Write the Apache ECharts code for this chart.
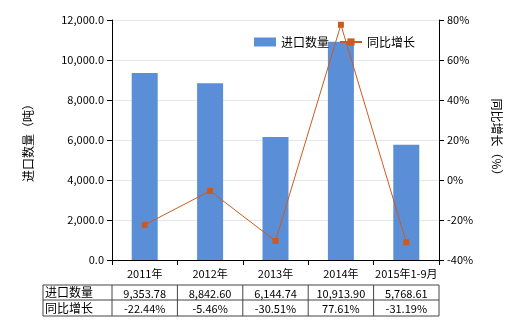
<!DOCTYPE html>
<html><head><meta charset="utf-8">
<script src="https://cdn.jsdelivr.net/npm/echarts@6/dist/echarts.min.js"></script>
<style>html,body{margin:0;padding:0;background:#fff}#c{width:520px;height:330px}</style>
</head><body><div id="c"></div>
<script>
var categories = ['2011年','2012年','2013年','2014年','2015年1-9月'];
var importQty = [9353.78, 8842.60, 6144.74, 10913.90, 5768.61];
var yoyGrowth = [-22.44, -5.46, -30.51, 77.61, -31.19];
var qtyLabels = ['9,353.78','8,842.60','6,144.74','10,913.90','5,768.61'];
var yoyLabels = ['-22.44%','-5.46%','-30.51%','77.61%','-31.19%'];
var rowNames = ['进口数量','同比增长'];

var chart = echarts.init(document.getElementById('c'));
var font = 'Microsoft YaHei, "Noto Sans CJK SC", sans-serif';
var L = 112, R = 439, T = 20, B = 260;
var tTop = 285, tMid = 300, tBot = 316, tLeft = 43;
var colW = (R - L) / categories.length;

var g = [];
var lineStyle = {stroke: '#444', lineWidth: 1};
g.push({type:'line', shape:{x1:tLeft,y1:tTop,x2:R,y2:tTop}, style:lineStyle});
g.push({type:'line', shape:{x1:tLeft,y1:tMid,x2:R,y2:tMid}, style:lineStyle});
g.push({type:'line', shape:{x1:tLeft,y1:tBot,x2:R,y2:tBot}, style:lineStyle});
g.push({type:'line', shape:{x1:tLeft,y1:tTop,x2:tLeft,y2:tBot}, style:lineStyle});
for (var i = 0; i <= categories.length; i++) {
  var x = L + i * colW;
  g.push({type:'line', shape:{x1:x,y1:tTop,x2:x,y2:tBot}, style:lineStyle});
}
var rows = [qtyLabels, yoyLabels];
for (var r = 0; r < 2; r++) {
  var cy = (r === 0 ? (tTop + tMid) / 2 : (tMid + tBot) / 2);
  g.push({type:'text', x: tLeft + 2, y: cy, style:{text: rowNames[r], fill:'#000', font:'12px ' + font, verticalAlign:'middle', align:'left'}});
  for (var c = 0; c < categories.length; c++) {
    g.push({type:'text', x: L + (c + 0.5) * colW, y: cy + 1, style:{text: rows[r][c], fill:'#000', font:'11px ' + font, verticalAlign:'middle', align:'center'}});
  }
}

chart.setOption({
  animation: false,
  textStyle: {fontFamily: font},
  grid: {left: L, right: 520 - R, top: T, bottom: 330 - B, containLabel: false},
  legend: {
    top: 31, left: 249, itemWidth: 22, itemHeight: 9, itemGap: 10,
    textStyle: {fontSize: 12, color: '#000'},
    data: [{name:'进口数量', icon:'rect'}, {name:'同比增长'}]
  },
  xAxis: {
    type: 'category', data: categories,
    axisLine: {lineStyle: {color: '#000'}},
    axisTick: {show: true, alignWithLabel: false, lineStyle: {color: '#000'}},
    axisLabel: {color: '#000', fontSize: 11, margin: 8, interval: 0}
  },
  yAxis: [{
    type: 'value', min: 0, max: 12000, interval: 2000,
    name: '进口数量（吨）', nameLocation: 'middle', nameGap: 78, nameRotate: 90,
    nameTextStyle: {fontSize: 12, color: '#000'},
    axisLine: {show: true, lineStyle: {color: '#000'}},
    axisTick: {show: true, lineStyle: {color: '#000'}},
    axisLabel: {color: '#000', fontSize: 11, formatter: function(v){ return v.toLocaleString('en-US',{minimumFractionDigits:1, maximumFractionDigits:1}); }},
    splitLine: {lineStyle: {color: '#e6e6e6'}}
  }, {
    type: 'value', min: -40, max: 80, interval: 20, position: 'right',
    name: '同比增长（%）', nameLocation: 'middle', nameGap: 52, nameRotate: -90,
    nameTextStyle: {fontSize: 12, color: '#000'},
    axisLine: {show: true, lineStyle: {color: '#000'}},
    axisTick: {show: true, lineStyle: {color: '#000'}},
    axisLabel: {color: '#000', fontSize: 11, formatter: '{value}%'},
    splitLine: {show: false}
  }],
  series: [{
    name: '进口数量', type: 'bar', data: importQty, barWidth: 26,
    itemStyle: {color: '#5a8fd8'}
  }, {
    name: '同比增长', type: 'line', yAxisIndex: 1, data: yoyGrowth,
    symbol: 'rect', symbolSize: 6,
    lineStyle: {color: '#cc5a1e', width: 1},
    itemStyle: {color: '#cc5a1e'}
  }],
  graphic: g
});
</script></body></html>
